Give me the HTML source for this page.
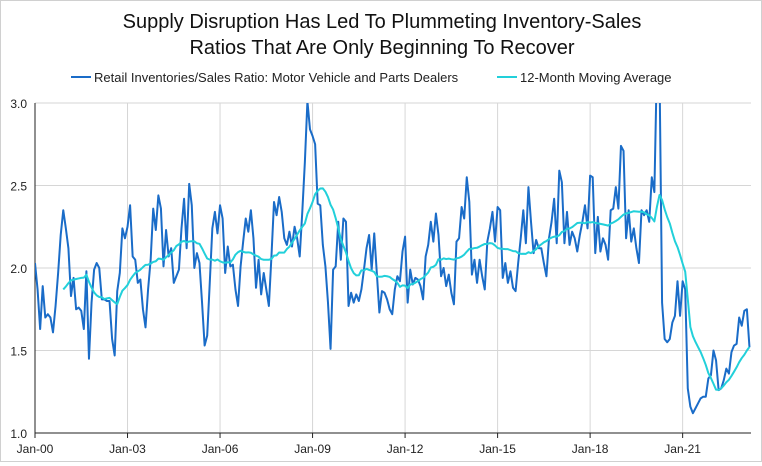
<!DOCTYPE html>
<html><head><meta charset="utf-8"><style>
body{margin:0;background:#fff;}
#wrap{position:relative;width:760px;height:460px;border:1px solid #d0d0d0;font-family:"Liberation Sans",sans-serif;}
</style></head><body>
<div id="wrap">
<svg id="chart" width="760" height="460">
<text x="381" y="27" text-anchor="middle" font-size="20" fill="#111">Supply Disruption Has Led To Plummeting Inventory-Sales</text>
<text x="381" y="53" text-anchor="middle" font-size="20" fill="#111">Ratios That Are Only Beginning To Recover</text>
<g>
<line x1="70" y1="76" x2="90" y2="76" stroke="#1a6cc8" stroke-width="2"/>
<text x="93" y="81" font-size="13" fill="#222">Retail Inventories/Sales Ratio: Motor Vehicle and Parts Dealers</text>
<line x1="496" y1="76" x2="516" y2="76" stroke="#22d0da" stroke-width="2"/>
<text x="519" y="81" font-size="13" fill="#222">12-Month Moving Average</text>
</g>
<g id="grid"></g><g id="axes"></g><g id="series"></g>
</svg></div>
<script>
const yTicks=[1.0,1.5,2.0,2.5,3.0];
const xTickLabels=["Jan-00","Jan-03","Jan-06","Jan-09","Jan-12","Jan-15","Jan-18","Jan-21"];
const xTickMonths=[0,36,72,108,144,180,216,252];
const ratio=[2.03,1.87,1.63,1.89,1.70,1.72,1.70,1.61,1.77,1.97,2.20,2.35,2.24,2.12,1.83,1.94,1.75,1.76,1.74,1.63,1.98,1.45,1.79,1.99,2.03,2.00,1.81,1.81,1.80,1.80,1.57,1.47,1.86,1.97,2.24,2.18,2.25,2.38,2.07,2.05,1.91,1.93,1.75,1.64,1.87,2.05,2.36,2.23,2.44,2.36,2.01,2.23,2.07,2.12,1.91,1.95,1.99,2.24,2.42,2.12,2.51,2.38,2.00,2.09,2.03,1.79,1.53,1.59,1.91,2.24,2.34,2.21,2.38,2.30,1.97,2.13,2.01,2.02,1.87,1.77,2.01,2.16,2.30,2.22,2.35,2.18,1.88,2.05,1.84,1.97,1.87,1.77,2.07,2.40,2.32,2.43,2.34,2.18,2.14,2.22,2.13,2.25,2.18,2.07,2.34,2.64,3.01,2.84,2.80,2.75,2.39,2.38,2.14,2.01,1.79,1.51,1.99,2.01,2.28,2.05,2.30,2.28,1.77,1.85,1.79,1.84,1.80,1.87,1.99,2.12,2.20,1.99,2.21,1.97,1.73,1.86,1.85,1.81,1.75,1.72,1.87,1.95,1.92,2.10,2.19,1.79,1.99,1.90,1.94,1.93,1.89,1.81,2.07,2.14,2.28,2.16,2.33,2.20,1.95,2.00,1.89,1.96,1.85,1.78,2.16,2.18,2.37,2.30,2.55,2.40,1.96,2.05,1.91,2.05,1.95,1.87,2.16,2.24,2.34,2.16,2.37,2.35,1.94,2.03,1.91,1.98,1.88,1.86,2.03,2.18,2.35,2.15,2.49,2.28,2.09,2.17,2.12,2.12,2.03,1.95,2.18,2.28,2.42,2.15,2.59,2.52,2.15,2.34,2.14,2.22,2.18,2.10,2.20,2.28,2.38,2.24,2.56,2.55,2.09,2.31,2.10,2.18,2.14,2.05,2.35,2.36,2.49,2.36,2.74,2.71,2.18,2.35,2.16,2.24,2.12,2.03,2.35,2.32,2.35,2.28,2.55,2.46,3.25,3.20,1.79,1.57,1.55,1.57,1.67,1.71,1.92,1.71,1.92,1.87,1.27,1.16,1.12,1.15,1.18,1.21,1.22,1.22,1.33,1.35,1.50,1.44,1.26,1.27,1.32,1.39,1.36,1.49,1.53,1.54,1.70,1.65,1.74,1.75,1.52];
const maWindow=12;
const ns="http://www.w3.org/2000/svg";
const L=34,R=750,T=102,B=432,vmin=1,vmax=3,mmax=278;
const xs=m=>L+m*2.57;
const ys=v=>B-(v-vmin)/(vmax-vmin)*(B-T);
function mk(tag,attrs,parent){const e=document.createElementNS(ns,tag);for(const k in attrs)e.setAttribute(k,attrs[k]);parent.appendChild(e);return e;}
const grid=document.getElementById('grid'),axes=document.getElementById('axes'),ser=document.getElementById('series');
yTicks.forEach(v=>{
 const g=mk('line',{x1:L,x2:R,y1:ys(v),y2:ys(v),stroke:'#d6d6d6','stroke-width':1},grid);
 
 
 const t=mk('text',{x:26,y:ys(v)+5,'text-anchor':'end','font-size':12,fill:'#222'},axes);
 t.textContent=v.toFixed(1);
 
 
});
xTickMonths.forEach((m,i)=>{
 const g=mk('line',{x1:xs(m),x2:xs(m),y1:T,y2:B,stroke:'#d6d6d6','stroke-width':1},grid);
 
 
 const k=mk('line',{x1:xs(m),x2:xs(m),y1:B,y2:B+5,stroke:'#222','stroke-width':1},axes);
 
 
 const t=mk('text',{x:xs(m),y:B+20,'text-anchor':'middle','font-size':12,fill:'#222'},axes);
 t.textContent=xTickLabels[i];
 
 
});
const ya=mk('line',{x1:L,x2:L,y1:T,y2:B,stroke:'#222','stroke-width':1},axes);


const xa=mk('line',{x1:L,x2:R,y1:B,y2:B,stroke:'#222','stroke-width':1},axes);


const cp=mk('clipPath',{id:'clip'},ser);mk('rect',{x:L,y:T,width:R-L,height:B-T},cp);
const p1=mk('polyline',{points:ratio.map((v,i)=>xs(i)+','+ys(v)).join(' '),fill:'none',stroke:'#1a6cc8','stroke-width':2,'stroke-linejoin':'round','clip-path':'url(#clip)'},ser);


const ma=[];
for(let i=maWindow-1;i<ratio.length;i++){let s=0;for(let j=i-maWindow+1;j<=i;j++)s+=ratio[j];ma.push([i,s/maWindow]);}
const p2=mk('polyline',{points:ma.map(([i,v])=>xs(i)+','+ys(v)).join(' '),fill:'none',stroke:'#22d0da','stroke-width':2,'stroke-linejoin':'round','clip-path':'url(#clip)'},ser);


</script>
</body></html>
